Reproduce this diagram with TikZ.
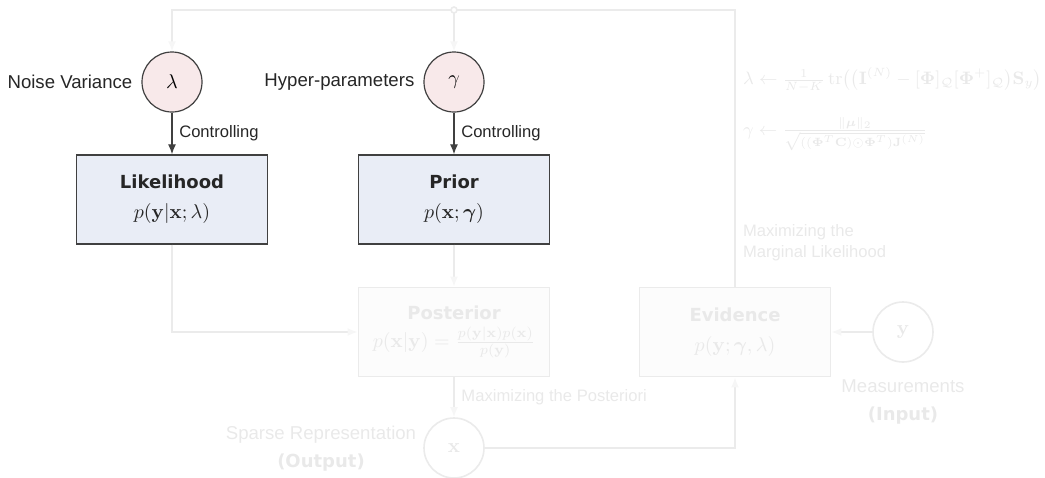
\documentclass[tikz,border=0pt]{standalone}
\usepackage{amsmath,amssymb}
\usepackage[no-math]{fontspec}
\setmainfont{Liberation Sans}
\newfontfamily\headfont{DejaVu Sans}
\usetikzlibrary{arrows.meta,positioning}

\definecolor{circfill}{HTML}{F8E9EA}
\definecolor{boxfill}{HTML}{E9EDF6}
\definecolor{edgedark}{HTML}{404040}
\definecolor{fadeline}{HTML}{EBEBEB}
\definecolor{fadetext}{HTML}{E9E9E9}
\definecolor{fadefill}{HTML}{FCFCFC}
\definecolor{fadetip}{HTML}{F6F6F6}

\newcommand{\head}[1]{{\headfont\bfseries\fontsize{9}{11}\selectfont #1}}

\begin{document}
\begin{tikzpicture}[x=0.5pt,y=-0.5pt,
		var/.style={circle, draw=edgedark, fill=circfill, line width=.6pt, minimum size=30pt, inner sep=0pt, font=\fontsize{10}{12}\selectfont},
		varfade/.style={var, draw=fadeline, fill=white, text=fadetext, line width=.8pt},
		block/.style={rectangle, draw=edgedark, fill=boxfill, line width=.7pt, minimum width=95.5pt, minimum height=44.5pt, align=center, text=black!85, font=\fontsize{10}{15}\selectfont},
		blockfade/.style={block, draw=fadeline, fill=fadefill, text=fadetext, line width=.8pt},
		lbl/.style={font=\fontsize{9.3}{14}\selectfont, text=black!85},
		elbl/.style={font=\fontsize{8.3}{10.5}\selectfont, text=black!85},
		link/.style={-{Latex[length=5pt,width=4pt]}, edgedark, line width=.6pt},
		linkfade/.style={-{Latex[length=5pt,width=4pt,color=fadetip]}, fadeline, line width=.8pt}]
	\useasboundingbox (0,0) rectangle (1045,477);

	\node[var] (lam) at (172,82) {$\lambda$};
	\node[var] (gam) at (454,82) {$\gamma$};
	\node[lbl, left=1pt of lam] (lamlbl) {Noise Variance};
	\node[lbl, left=1pt of gam] (gamlbl) {Hyper-parameters};

	\node[block] (like) at (172,199.5) {\head{Likelihood}\\ $p(\mathbf{y}|\mathbf{x};\lambda)$};
	\node[block] (prior) at (454,199.5) {\head{Prior}\\ $p(\mathbf{x};\boldsymbol{\gamma})$};
	\node[blockfade] (post) at (454,332) {\head{Posterior}\\[-1pt] $p(\mathbf{x}|\mathbf{y})=\frac{p(\mathbf{y}|\mathbf{x})p(\mathbf{x})}{p(\mathbf{y})}$};
	\node[blockfade] (evid) at (735,332) {\head{Evidence}\\ $p(\mathbf{y};\boldsymbol{\gamma},\lambda)$};

	\node[varfade] (xs) at (454,448) {$\mathbf{x}$};
	\node[varfade] (ys) at (903,332) {$\mathbf{y}$};
	\node[lbl, text=fadetext, align=center] (outlbl) at (321,449) {Sparse Representation\\ \head{(Output)}};
	\node[lbl, text=fadetext, align=center] (inlbl) at (903,402) {Measurements\\ \head{(Input)}};

	\coordinate (junc) at (454,10);
	\coordinate (tl) at (172,10);
	\coordinate (tr) at (735,10);

	\draw[link] (lam) -- (like) node[midway, right, elbl] {Controlling};
	\draw[link] (gam) -- (prior) node[midway, right, elbl] {Controlling};

	\draw[linkfade] (evid.north) -- (tr) -- (tl) -- (lam.north);
	\draw[linkfade] (junc) -- (gam.north);
	\draw[fadeline, fill=white, line width=.8pt] (junc) circle (1.5pt);
	\draw[linkfade] (like.south) |- (post.west);
	\draw[linkfade] (prior.south) -- (post.north);
	\draw[linkfade] (post.south) -- (xs.north) node[midway, right, elbl, text=fadetext] {Maximizing the Posteriori};
	\draw[linkfade] (xs.east) -| (evid.south);
	\draw[linkfade] (ys.west) -- (evid.east);

	\node[elbl, text=fadetext, align=left, anchor=west] (marglbl) at (736,243) {Maximizing the\\Marginal Likelihood};
	\node[text=fadetext, anchor=west, font=\fontsize{8.6}{11}\selectfont] (eqlam) at (736,80) {$\lambda \leftarrow \frac{1}{N-K}\operatorname{tr}\bigl(\bigl(\mathbf{I}^{(N)}-[\boldsymbol{\Phi}]_{\mathcal{Q}}[\boldsymbol{\Phi}^{+}]_{\mathcal{Q}}\bigr)\mathbf{S}_y\bigr)$};
	\node[text=fadetext, anchor=west, font=\fontsize{9}{11}\selectfont] (eqgam) at (736,134) {$\gamma \leftarrow \frac{\|\boldsymbol{\mu}\|_2}{\sqrt{((\boldsymbol{\Phi}^T\mathbf{C})\odot\boldsymbol{\Phi}^T)\mathbf{J}^{(N)}}}$};
\end{tikzpicture}
\end{document}
